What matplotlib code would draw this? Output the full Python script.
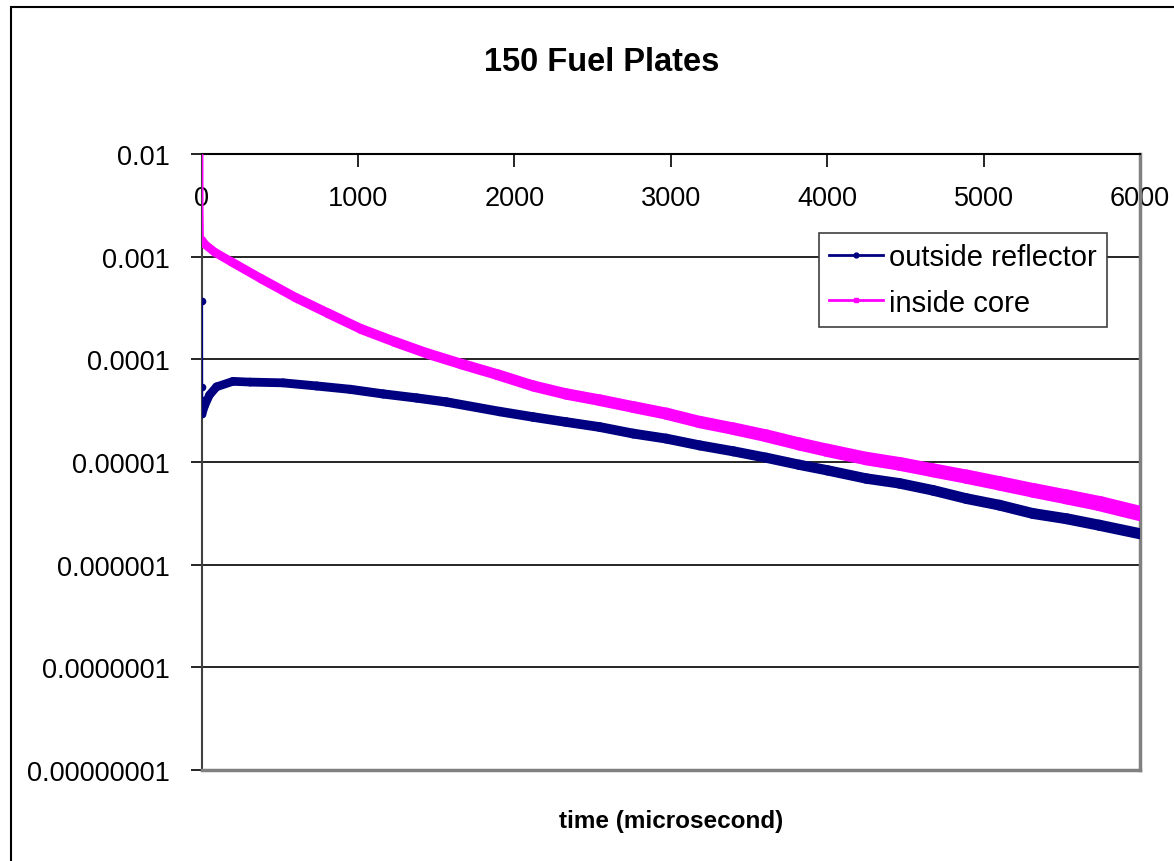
import numpy as np
import matplotlib
matplotlib.use("Agg")
import matplotlib.pyplot as plt
from matplotlib.collections import LineCollection
from matplotlib.lines import Line2D
from matplotlib.patches import Rectangle

# values
core_t = [0, 0.5, 3, 20, 85, 190, 380, 600, 810, 1020, 1235, 1450, 1660, 1890,
          2120, 2330, 2545, 2760, 2970, 3185, 3400, 3610, 3820, 4000, 4250, 4460,
          4675, 4890, 5100, 5315, 5530, 5740, 6000]
core_v = [1e-2, 3e-3, 1.45e-3, 1.32e-3, 1.1e-3, 8.9e-4, 6.1e-4, 4.0e-4, 2.8e-4,
          1.97e-4, 1.48e-4, 1.13e-4, 9.0e-5, 7.1e-5, 5.5e-5, 4.6e-5, 4.0e-5,
          3.43e-5, 2.96e-5, 2.45e-5, 2.11e-5, 1.8e-5, 1.5e-5, 1.3e-5, 1.08e-5,
          9.6e-6, 8.3e-6, 7.2e-6, 6.2e-6, 5.3e-6, 4.57e-6, 3.94e-6, 3.15e-6]

refl_t = [0, 0.5, 1, 2, 3, 20, 50, 95, 200, 310, 520, 735, 950, 1160, 1375, 1565,
          1905, 2120, 2330, 2545, 2760, 2970, 3185, 3400, 3610, 3820, 4000, 4250,
          4460, 4675, 4890, 5100, 5315, 5530, 5740, 6000]
refl_v = [3.7e-4, 5.4e-5, 4.0e-5, 3.3e-5, 2.95e-5, 3.56e-5, 4.5e-5, 5.4e-5, 6.1e-5,
          6.0e-5, 5.9e-5, 5.5e-5, 5.1e-5, 4.6e-5, 4.2e-5, 3.84e-5, 3.1e-5, 2.74e-5,
          2.45e-5, 2.19e-5, 1.89e-5, 1.69e-5, 1.45e-5, 1.27e-5, 1.1e-5, 9.4e-6,
          8.3e-6, 6.9e-6, 6.2e-6, 5.3e-6, 4.4e-6, 3.8e-6, 3.15e-6, 2.8e-6, 2.42e-6,
          2.0e-6]

x_ticks = [0, 1000, 2000, 3000, 4000, 5000, 6000]
y_ticks = [1e-2, 1e-3, 1e-4, 1e-5, 1e-6, 1e-7, 1e-8]
y_labels = ["0.01", "0.001", "0.0001", "0.00001", "0.000001", "0.0000001", "0.00000001"]

NAVY = "#000080"
PINK = "#FF00FF"

plt.rcParams['font.family'] = ['Liberation Sans', 'DejaVu Sans']

fig = plt.figure(figsize=(11.74, 8.62), dpi=100)
ax = fig.add_axes([0.1718, 0.1056, 0.7992, 0.7146])


def band(t, v, w0, w1, color):
    # thick band standing in for the dense markers of the original
    pts = np.column_stack([t, v])
    segs = np.stack([pts[:-1], pts[1:]], axis=1)
    lc = LineCollection(segs, colors=color, linewidths=np.linspace(w0, w1, len(segs)),
                        capstyle='round', joinstyle='round', zorder=3)
    ax.add_collection(lc)


# spike at t = 0, drawn thin
ax.plot(core_t[:3], core_v[:3], color=PINK, lw=2.5, zorder=3)
ax.plot(refl_t[:5], refl_v[:5], color=NAVY, lw=2, marker='o', ms=4.5, zorder=4)
band(core_t[2:], core_v[2:], 6, 11, PINK)
band(refl_t[4:], refl_v[4:], 6, 8, NAVY)

ax.set_yscale('log')
ax.set_xlim(0, 6000)
ax.set_ylim(1e-8, 1e-2)
ax.set_yticks(y_ticks)
ax.set_yticklabels(y_labels)
ax.yaxis.set_minor_locator(matplotlib.ticker.NullLocator())
ax.set_xticks(x_ticks)
ax.set_xticklabels([str(x) for x in x_ticks])

ax.grid(axis='y', color='black', lw=1.2)
ax.set_axisbelow(True)

ax.tick_params(axis='y', direction='out', length=8, width=1.2, labelsize=19.5, pad=15)
ax.tick_params(axis='x', direction='in', length=9, width=1.2, labelsize=19.5,
               top=True, bottom=False, labeltop=True, labelbottom=False, pad=-41)

for s in ['right', 'bottom']:
    ax.spines[s].set_color('#808080')
    ax.spines[s].set_linewidth(2.5)
ax.spines['top'].set_color('black')
ax.spines['top'].set_linewidth(1.5)
ax.spines['left'].set_color('#404040')
ax.spines['left'].set_linewidth(1.5)

fig.text(0.5127, 0.928, "150 Fuel Plates", ha='center', va='center',
         fontsize=23.5, fontweight='bold')
ax.set_xlabel("time (microsecond)", fontsize=17.5, fontweight='bold', labelpad=28)

handles = [Line2D([], [], color=NAVY, lw=2, marker='o', ms=3.5),
           Line2D([], [], color=PINK, lw=2, marker='s', ms=3.5)]
leg = ax.legend(handles, ["outside reflector", "inside core"], loc='upper right',
                bbox_to_anchor=(0.9645, 0.8713), fontsize=21, frameon=True,
                fancybox=False, edgecolor='#404040', framealpha=1,
                handlelength=1.86, handletextpad=0.2, labelspacing=0.6,
                borderpad=0.34, borderaxespad=0, markerscale=1)
leg.get_frame().set_linewidth(1.2)

# chart-area frame, running off the right and bottom edges
fig.patches.append(Rectangle((11 / 1174, -0.1), 1.2, 1.1 - 8 / 862,
                             transform=fig.transFigure, fill=False,
                             edgecolor='black', lw=1.5))

fig.savefig("out.png", dpi=100)
